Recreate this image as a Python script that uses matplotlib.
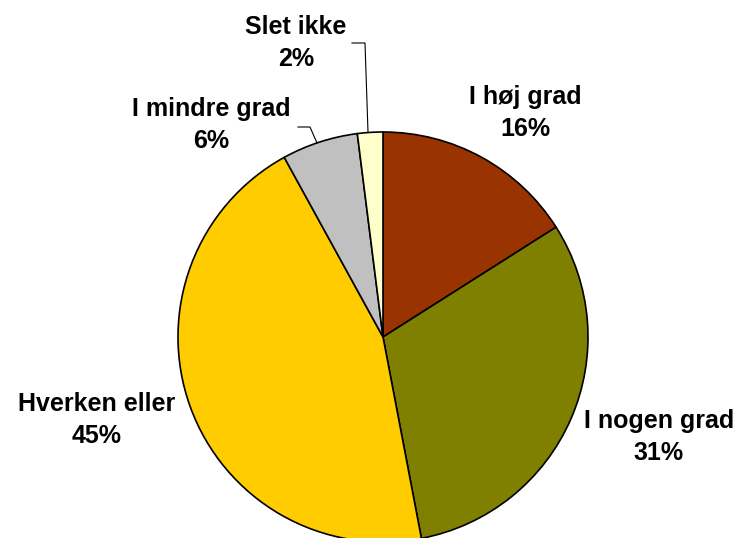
import matplotlib
matplotlib.use("Agg")
import matplotlib.pyplot as plt

labels = ["I høj grad", "I nogen grad", "Hverken eller", "I mindre grad", "Slet ikke"]
values = [16, 31, 45, 6, 2]
colors = ["#993300", "#808000", "#FFCC00", "#C0C0C0", "#FFFFCC"]

# label text centres in pixel coords (y from top)
label_pos = [(525, 113), (659, 437), (97, 420), (211, 125), (296, 43)]

W, H = 743, 538
fig = plt.figure(figsize=(W / 100, H / 100), dpi=100)
ax = fig.add_axes([0, 0, 1, 1])

wedges, _ = ax.pie(values, colors=colors, startangle=90, counterclock=False,
                   center=(383, H - 337), radius=205, frame=True,
                   wedgeprops=dict(edgecolor="black", linewidth=1.2))
ax.set_xlim(0, W)
ax.set_ylim(0, H)
ax.axis("off")

for lab, v, (x, y) in zip(labels, values, label_pos):
    ax.text(x, H - y, f"{lab}\n{v}%", ha="center", va="center",
            fontsize=18, fontweight="bold", family="Liberation Sans",
            linespacing=1.4)

# leader lines for the two small slices
ax.plot([298, 310, 317], [H - 127, H - 127, H - 143], color="black", lw=0.8)
ax.plot([352, 365, 368], [H - 43, H - 43, H - 132], color="black", lw=0.8)

fig.savefig("out.png", dpi=100)
